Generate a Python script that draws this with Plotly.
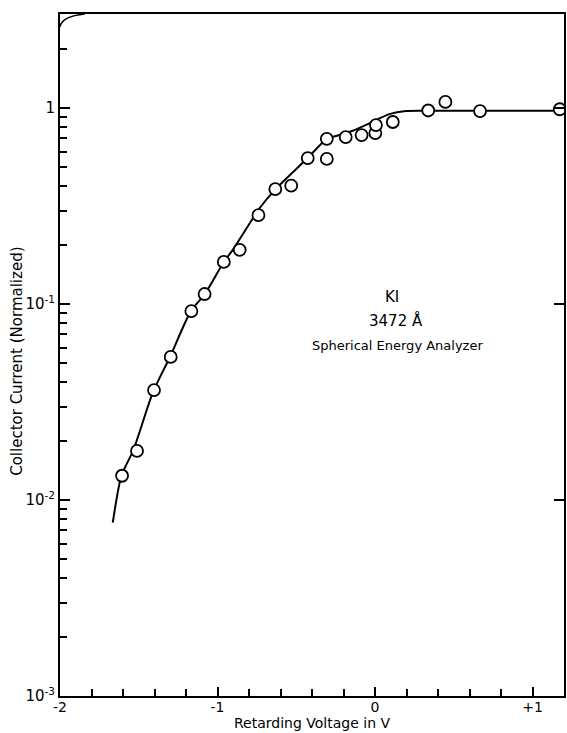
import plotly.graph_objects as go

# Measured points (retarding voltage in V, normalized collector current)
point_v = [-1.606, -1.511, -1.403, -1.297, -1.166, -1.082, -0.960, -0.859,
           -0.740, -0.633, -0.532, -0.427, -0.306, -0.306, -0.186, -0.085,
           0.002, 0.006, 0.113, 0.338, 0.447, 0.667, 1.173]
point_i = [0.0133, 0.0178, 0.0364, 0.0537, 0.092, 0.1125, 0.164, 0.189,
           0.284, 0.386, 0.402, 0.556, 0.697, 0.550, 0.711, 0.728,
           0.745, 0.819, 0.849, 0.972, 1.075, 0.965, 0.986]

# Smooth curve drawn through the data
curve_v = [-1.665, -1.610, -1.534, -1.409, -1.302, -1.169, -1.080, -0.960,
           -0.903, -0.732, -0.631, -0.428, -0.306, -0.247, -0.142, -0.036,
           0.091, 0.196, 0.40, 0.80, 1.20]
curve_i = [0.00766, 0.0133, 0.0180, 0.0356, 0.0537, 0.092, 0.1125, 0.164,
           0.189, 0.309, 0.386, 0.556, 0.697, 0.720, 0.766, 0.836,
           0.931, 0.966, 0.968, 0.968, 0.968]

x_ticks = [-2, -1, 0, 1]
x_ticktext = ["-2", "-1", "0", "+1"]
x_minor = [-1.8, -1.6, -1.4, -1.2, -0.8, -0.6, -0.4, -0.2, 0.2, 0.4, 0.6, 0.8]
y_ticks = [0.001, 0.01, 0.1, 1]
y_ticktext = ["10<sup>-3</sup>", "10<sup>-2</sup>", "10<sup>-1</sup>", "1"]
y_minor = [m * d for d in [0.001, 0.01, 0.1, 1] for m in range(2, 10)]

FONT = "DejaVu Sans"

fig = go.Figure()
fig.add_trace(go.Scatter(x=curve_v, y=curve_i, mode="lines",
                         line=dict(color="black", width=2, shape="spline", smoothing=0.7),
                         hoverinfo="skip", showlegend=False))
fig.add_trace(go.Scatter(x=point_v, y=point_i, mode="markers",
                         marker=dict(symbol="circle", size=12, color="white",
                                     line=dict(color="black", width=1.8)),
                         showlegend=False))
# helper trace for right-hand axis ticks
fig.add_trace(go.Scatter(x=[0], y=[1], yaxis="y2", mode="markers",
                         marker=dict(size=0.1, opacity=0), hoverinfo="skip",
                         showlegend=False))

fig.update_layout(
    width=567, height=733,
    margin=dict(l=60, r=1, t=14, b=37),
    paper_bgcolor="white", plot_bgcolor="white",
    font=dict(family=FONT, size=14, color="black"),
    xaxis=dict(range=[-2, 1.2], tickvals=x_ticks, ticktext=x_ticktext,
               ticks="inside", ticklen=9, tickwidth=1.5, tickcolor="black",
               minor=dict(tickvals=x_minor, ticks="inside", ticklen=7,
                          tickwidth=1.5, tickcolor="black"),
               showline=True, linecolor="black", linewidth=2, mirror=True,
               showgrid=False, zeroline=False, ticklabelstandoff=-3,
               tickfont=dict(size=14)),
    yaxis=dict(type="log", range=[-3, 0.48], tickvals=y_ticks, ticktext=y_ticktext,
               ticks="inside", ticklen=10, tickwidth=1.5, tickcolor="black",
               minor=dict(tickvals=y_minor, ticks="inside", ticklen=7,
                          tickwidth=1.5, tickcolor="black"),
               showline=True, linecolor="black", linewidth=2, mirror=True,
               showgrid=False, zeroline=False,
               tickfont=dict(size=15)),
    yaxis2=dict(type="log", range=[-3, 0.48], overlaying="y", side="right",
                tickvals=y_ticks, ticks="inside", ticklen=10, tickwidth=1.5,
                tickcolor="black", showticklabels=False, showline=False,
                showgrid=False, zeroline=False),
)

# x-axis title
fig.add_annotation(x=0.5, y=0, xref="paper", yref="paper", xanchor="center",
                   yanchor="bottom", yshift=-37, showarrow=False,
                   text="Retarding Voltage in V", font=dict(size=14))
# y-axis title
fig.add_annotation(x=0, y=0.49, xref="paper", yref="paper", xanchor="center",
                   yanchor="middle", xshift=-43, textangle=-90, showarrow=False,
                   text="Collector Current (Normalized)", font=dict(size=15))

fig.add_annotation(x=0.11, y=-0.964, xref="x", yref="y", text="KI", showarrow=False,
                   font=dict(size=15))
fig.add_annotation(x=0.135, y=-1.085, xref="x", yref="y", text="3472 Å", showarrow=False,
                   font=dict(size=15))
fig.add_annotation(x=0.14, y=-1.209, xref="x", yref="y", text="Spherical Energy Analyzer",
                   showarrow=False, font=dict(size=13))

# small curl at the top-left corner of the frame
fig.add_shape(type="path", xref="paper", yref="paper",
              path="M 0,0.981 Q 0.004,0.997 0.049,1.0",
              line=dict(color="black", width=1.5))

fig.write_html("out.html")
